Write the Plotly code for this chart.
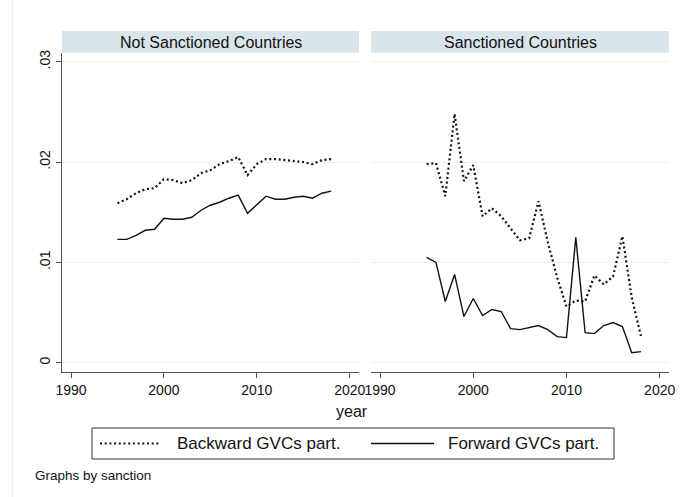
import plotly.graph_objects as go

# ---- data -----------------------------------------------------------------
years = list(range(1995, 2019))

# Not sanctioned countries
not_sanc_backward = [0.0159, 0.0163, 0.0169, 0.0173, 0.0174, 0.0183, 0.0182, 0.0179,
                     0.0182, 0.0189, 0.0192, 0.0198, 0.0201, 0.0205, 0.0187, 0.0198,
                     0.0203, 0.0203, 0.0202, 0.0201, 0.0200, 0.0198, 0.0202, 0.0203]
not_sanc_forward = [0.0123, 0.0123, 0.0127, 0.0132, 0.0133, 0.0144, 0.0143, 0.0143,
                    0.0145, 0.0152, 0.0157, 0.0160, 0.0164, 0.0167, 0.0149, 0.0158,
                    0.0166, 0.0163, 0.0163, 0.0165, 0.0166, 0.0164, 0.0169, 0.0171]

# Sanctioned countries
sanc_backward = [0.0198, 0.0199, 0.0166, 0.0248, 0.0181, 0.0197, 0.0146, 0.0154,
                 0.0146, 0.0134, 0.0122, 0.0124, 0.0161, 0.0120, 0.0085, 0.0056,
                 0.0062, 0.0061, 0.0087, 0.0078, 0.0086, 0.0126, 0.0065, 0.0026]
sanc_forward = [0.0105, 0.0100, 0.0061, 0.0088, 0.0046, 0.0064, 0.0047, 0.0053,
                0.0051, 0.0034, 0.0033, 0.0035, 0.0037, 0.0033, 0.0026, 0.0025,
                0.0125, 0.0030, 0.0029, 0.0037, 0.0040, 0.0036, 0.0010, 0.0011]

panel_titles = ["Not Sanctioned Countries", "Sanctioned Countries"]
series_names = ["Backward GVCs part.", "Forward GVCs part."]
x_ticks = [1990, 2000, 2010, 2020]
y_ticks = [0, 0.01, 0.02, 0.03]
y_ticktext = ["0", ".01", ".02", ".03"]

# ---- layout constants ----------------------------------------------------
W, H = 681, 497
FONT = "Liberation Sans, Arial, sans-serif"
INK = "#111111"
AXIS = "#555555"
GRID = "#eaf2f3"
STRIP = "#d9e5eb"
DOT = "2px,2.7px"


def px_x(p):
    return p / W


def px_y(p):
    return 1 - p / H


left_dom = [px_x(62), px_x(359)]
right_dom = [px_x(371), px_x(669)]
y_dom = [px_y(372), px_y(53)]

fig = go.Figure()

panels = [
    ("x", "y", not_sanc_backward, not_sanc_forward),
    ("x2", "y2", sanc_backward, sanc_forward),
]
for xa, ya, back, fwd in panels:
    fig.add_trace(go.Scatter(x=years, y=back, mode="lines", xaxis=xa, yaxis=ya,
                             name=series_names[0], showlegend=False,
                             line=dict(color=INK, width=2.2, dash=DOT)))
    fig.add_trace(go.Scatter(x=years, y=fwd, mode="lines", xaxis=xa, yaxis=ya,
                             name=series_names[1], showlegend=False,
                             line=dict(color=INK, width=1.4)))

x_common = dict(range=[1989.03, 2021.0], tickvals=x_ticks, ticks="outside",
                ticklen=5, tickwidth=1, tickcolor=AXIS, showline=True,
                linecolor=AXIS, linewidth=1, showgrid=False, zeroline=False,
                tickfont=dict(family=FONT, size=14, color=INK))
y_common = dict(range=[-0.00093, 0.03088], tickvals=y_ticks, domain=y_dom,
                showgrid=True, gridcolor=GRID, gridwidth=1, zeroline=False)

fig.update_layout(
    width=W, height=H,
    margin=dict(l=0, r=0, t=0, b=0, autoexpand=False),
    paper_bgcolor="white", plot_bgcolor="white",
    showlegend=False,
    xaxis=dict(domain=left_dom, anchor="y", **x_common),
    xaxis2=dict(domain=right_dom, anchor="y2", **x_common),
    yaxis=dict(anchor="x", ticktext=y_ticktext, ticks="outside", ticklen=5,
               tickwidth=1, tickcolor=AXIS, showline=True, linecolor=AXIS,
               linewidth=1, tickangle=-90,
               tickfont=dict(family=FONT, size=14, color=INK), **y_common),
    yaxis2=dict(anchor="x2", matches="y", showticklabels=False, ticks="",
                showline=False, **y_common),
)

shapes = []
annotations = []

# panel strips
for dom, title in zip([left_dom, right_dom], panel_titles):
    shapes.append(dict(type="rect", xref="paper", yref="paper",
                       x0=dom[0], x1=dom[1], y0=px_y(52.7), y1=px_y(31),
                       fillcolor=STRIP, line=dict(width=0), layer="below"))
    annotations.append(dict(text=title, xref="paper", yref="paper",
                            x=(dom[0] + dom[1]) / 2, y=px_y(42),
                            xanchor="center", yanchor="middle", showarrow=False,
                            font=dict(family=FONT, size=16, color=INK)))

# x axis title
annotations.append(dict(text="year", xref="paper", yref="paper",
                        x=px_x(352), y=px_y(411), xanchor="center",
                        yanchor="middle", showarrow=False,
                        font=dict(family=FONT, size=16, color=INK)))

# legend box with line keys
shapes.append(dict(type="rect", xref="paper", yref="paper",
                   x0=px_x(92), x1=px_x(614), y0=px_y(459), y1=px_y(428),
                   line=dict(color="#333333", width=1), fillcolor="white"))
key_y = px_y(443.5)
shapes.append(dict(type="line", xref="paper", yref="paper",
                   x0=px_x(100), x1=px_x(159), y0=key_y, y1=key_y,
                   line=dict(color=INK, width=2.2, dash=DOT)))
shapes.append(dict(type="line", xref="paper", yref="paper",
                   x0=px_x(371), x1=px_x(434), y0=key_y, y1=key_y,
                   line=dict(color=INK, width=1.4)))
annotations.append(dict(text=series_names[0], xref="paper", yref="paper",
                        x=px_x(175), y=key_y, xanchor="left", yanchor="middle",
                        showarrow=False,
                        font=dict(family=FONT, size=17, color=INK)))
annotations.append(dict(text=series_names[1], xref="paper", yref="paper",
                        x=px_x(446), y=key_y, xanchor="left", yanchor="middle",
                        showarrow=False,
                        font=dict(family=FONT, size=17, color=INK)))

# note
annotations.append(dict(text="Graphs by sanction", xref="paper", yref="paper",
                        x=px_x(33), y=px_y(475), xanchor="left",
                        yanchor="middle", showarrow=False,
                        font=dict(family=FONT, size=13.5, color=INK)))

# faint outer edge of the graph region
shapes.append(dict(type="line", xref="paper", yref="paper",
                   x0=px_x(12.5), x1=px_x(12.5), y0=0, y1=1,
                   line=dict(color="#eeeeee", width=1)))

fig.update_layout(shapes=shapes, annotations=annotations)

fig.write_html("out.html")
